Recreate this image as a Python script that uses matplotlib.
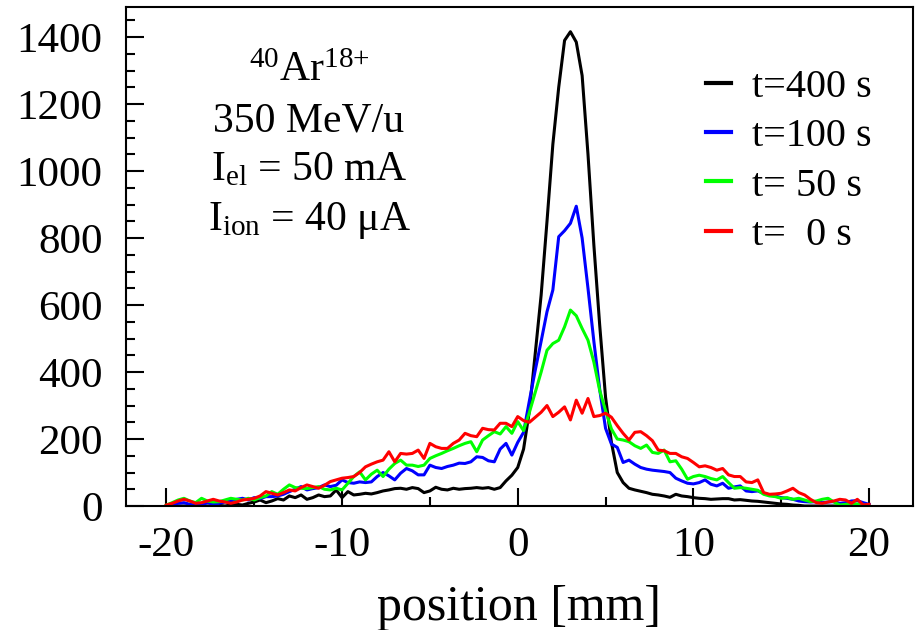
import numpy as np
import matplotlib.pyplot as plt
from matplotlib.ticker import MultipleLocator

plt.rcParams['font.family'] = ['Liberation Serif', 'DejaVu Serif']
plt.rcParams['mathtext.fontset'] = 'custom'
plt.rcParams['mathtext.rm'] = 'Liberation Serif'
plt.rcParams['mathtext.it'] = 'Liberation Serif:italic'
plt.rcParams['axes.unicode_minus'] = False

# beam profile positions, 1/3 mm steps from -20 to 20 mm
position = np.linspace(-20, 20, 121)

# counts per bin, one row per millimetre
t400 = [0, 0, 0,   0, 0, 0,   0, 0, 0,   2, 0, 3,
        5, 3, 8,   12, 18, 10,   15, 22, 18,   30, 25, 33,
        20, 25, 33,   28, 30, 48,   25, 43, 33,   35, 38, 36,
        40, 45, 48,   52, 53, 50,   55, 52, 40,   45, 56, 50,
        48, 53, 50,   52, 53, 55,   53, 55, 50,   55, 75, 92,
        115, 170, 285,   457, 630, 850,   1080, 1250, 1390,   1416, 1385, 1285,
        1050, 780, 540,   325, 190, 100,   70, 53, 48,   44, 40, 35,
        33, 30, 26,   35, 30, 28,   25, 23, 22,   20, 21, 22,
        22, 18, 19,   17, 15, 14,   12, 10, 8,   6, 5, 3,
        2, 0, 0,   0, 0, 0,   0, 0, 0,   0, 0, 0,
        0]

t100 = [0, 3, 8,   10, 5, 8,   3, 10, 5,   8, 12, 15,
        20, 23, 18,   25, 22, 28,   28, 30, 35,   43, 50, 58,
        48, 52, 55,   63, 58, 62,   78, 70, 68,   72, 70, 72,
        88, 100, 90,   78, 98, 112,   105, 93, 93,   122, 115, 112,
        118, 122, 128,   127, 132, 147,   145, 135, 132,   170, 187, 152,
        190, 220, 315,   406, 492, 580,   645, 804, 822,   844, 895, 800,
        650, 492, 348,   232, 185, 175,   130, 137, 125,   115, 110, 107,
        105, 103, 100,   83, 75, 68,   66, 70, 78,   65, 60, 68,
        53, 57, 60,   45, 43, 45,   38, 33, 30,   25, 23, 20,
        15, 13, 12,   13, 10, 12,   13, 8, 10,   15, 16, 10,
        5]

t50 = [3, 10, 18,   23, 15, 10,   23, 15, 12,   13, 18, 23,
       20, 18, 23,   18, 25, 30,   43, 35, 50,   63, 55, 53,
       52, 55, 58,   50, 48, 53,   48, 68, 88,   102, 78, 95,
       107, 88, 110,   127, 137, 122,   122, 118, 122,   142, 150, 157,
       165, 172, 180,   187, 192, 162,   197, 210, 222,   215, 237, 217,
       252, 225, 280,   340, 400, 465,   485, 495, 535,   585, 568, 530,
       495, 430, 345,   285, 230, 200,   197, 192, 180,   172, 182, 160,
       157, 167, 132,   135, 110, 80,   88, 92, 88,   82, 78, 88,
       70, 53, 55,   53, 50, 47,   35, 30, 28,   23, 25, 20,
       23, 18, 13,   15, 20, 23,   12, 3, 5,   8, 6, 3,
       0]

t0 = [3, 8, 15,   20, 15, 8,   10, 15, 20,   15, 12, 8,
      12, 18, 20,   23, 30, 43,   38, 33, 40,   48, 45, 55,
      63, 58, 53,   62, 73, 78,   83, 85, 88,   100, 117, 125,
      132, 137, 162,   132, 157, 155,   157, 167, 142,   187, 177, 172,
      172, 187, 197,   217, 210, 207,   232, 228, 227,   247, 247, 237,
      267, 255, 250,   265, 280, 300,   267, 280, 296,   257, 316, 277,
      321, 267, 270,   277, 265, 240,   217, 197, 220,   222, 210, 195,
      167, 165, 157,   157, 147, 142,   130, 117, 120,   115, 107, 112,
      93, 88, 88,   72, 70, 78,   40, 35, 36,   38, 45, 53,
      40, 33, 20,   10, 8, 12,   15, 20, 18,   8, 20, 3,
      5]

labels = ['t=400 s', 't=100 s', 't= 50 s', 't=  0 s']
colors = ['black', '#0000ff', '#00ff00', '#ff0000']

fig = plt.figure(figsize=(9.17, 6.3), dpi=100)
ax = fig.add_axes([0.1374, 0.1968, 0.8582, 0.7922])

for ys, lab, col in zip([t400, t100, t50, t0], labels, colors):
    ax.plot(position, ys, color=col, lw=2.2, label=lab)

ax.set_xlim(-22.3, 22.5)
ax.set_ylim(0, 1490)
ax.xaxis.set_major_locator(MultipleLocator(10))
ax.xaxis.set_minor_locator(MultipleLocator(5))
ax.yaxis.set_major_locator(MultipleLocator(200))
ax.yaxis.set_minor_locator(MultipleLocator(50))
ax.tick_params(which='both', direction='in', top=False, right=False,
               width=1.5, labelsize=31)
ax.tick_params(axis='y', pad=17)
ax.tick_params(axis='x', pad=15)
ax.tick_params(which='major', length=13)
ax.tick_params(which='minor', length=6.5)
for sp in ax.spines.values():
    sp.set_linewidth(1.5)

ax.set_xlabel('position [mm]', fontsize=36, labelpad=14)

txt_kw = dict(transform=ax.transAxes, ha='center', va='center', fontsize=30)
ax.text(0.2325, 0.872, r'$\mathregular{^{40}}$Ar$\mathregular{^{18{+}}}$', **txt_kw)
ax.text(0.2325, 0.770, '350 MeV/u', **txt_kw)
ax.text(0.2325, 0.673, r'I$\mathregular{_{el}}$ = 50 mA', **txt_kw)
ax.text(0.2325, 0.573, r'I$\mathregular{_{ion}}$ = 40 μA', **txt_kw)

leg = ax.legend(loc='upper left', bbox_to_anchor=(0.737, 0.876), frameon=False,
                fontsize=29, handlelength=0.62, handletextpad=0.52,
                labelspacing=0.3, borderpad=0, borderaxespad=0)
for h in leg.get_lines():
    h.set_linewidth(3)

fig.savefig('out.png', dpi=100)
